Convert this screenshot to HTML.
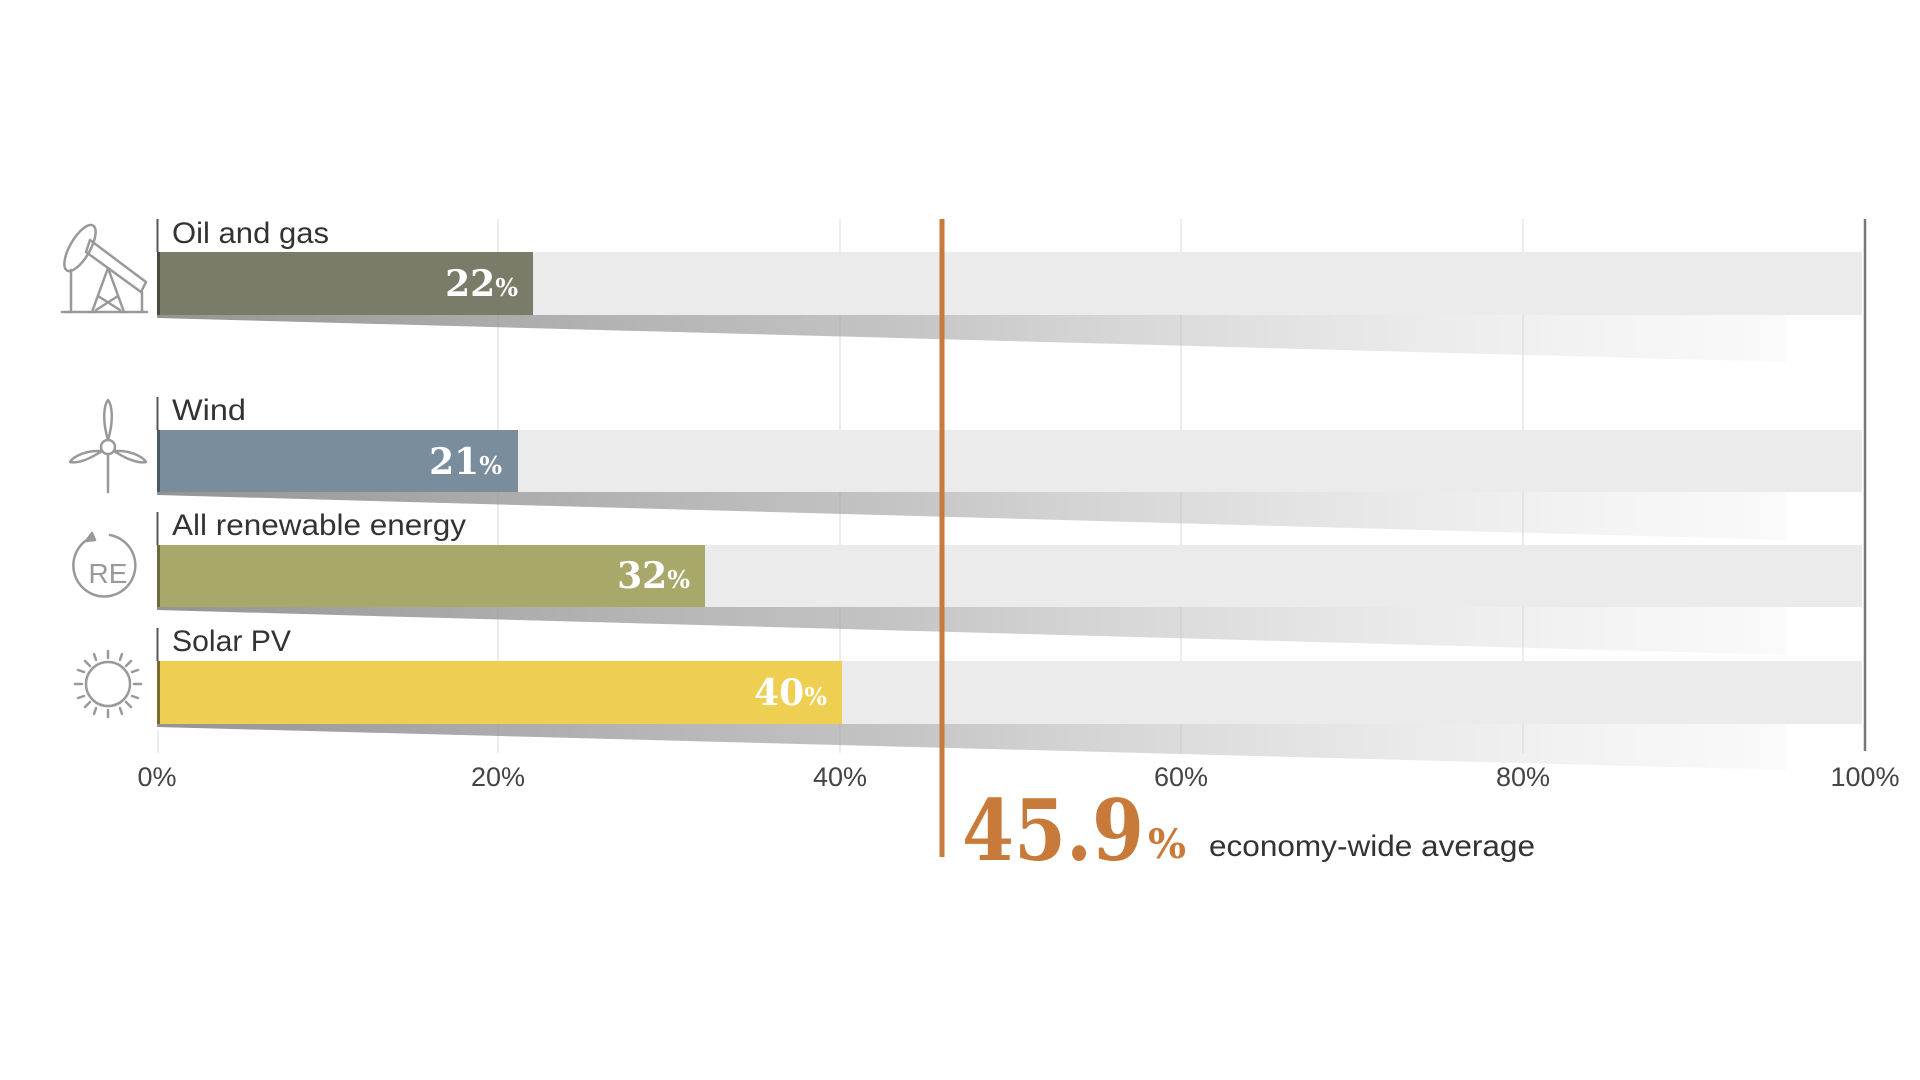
<!DOCTYPE html>
<html><head><meta charset="utf-8"><style>
html,body{margin:0;padding:0;background:#fff;width:1920px;height:1080px;overflow:hidden}
text{font-family:"Liberation Sans",sans-serif}
</style></head><body>
<svg width="1920" height="1080" viewBox="0 0 1920 1080" xmlns="http://www.w3.org/2000/svg">
<defs>
<linearGradient id="sh" x1="0" y1="0" x2="1" y2="0">
<stop offset="0" stop-color="#888" stop-opacity="0.9"/>
<stop offset="0.45" stop-color="#aaa" stop-opacity="0.7"/>
<stop offset="1" stop-color="#ddd" stop-opacity="0.15"/>
</linearGradient>
</defs>
<g stroke="#e6e6e6" stroke-width="1.5">
<line x1="498" y1="219" x2="498" y2="753"/>
<line x1="840" y1="219" x2="840" y2="753"/>
<line x1="1181" y1="219" x2="1181" y2="753"/>
<line x1="1523" y1="219" x2="1523" y2="753"/>
<line x1="158" y1="730" x2="158" y2="753"/>
</g>
<g>
<rect x="157" y="252" width="1705" height="63" fill="#ebebeb"/>
<polygon points="157,315 1786,315 1786,362 157,318" fill="url(#sh)"/>
<rect x="157" y="252" width="376" height="63" fill="#7a7b68"/>
<rect x="157" y="252" width="3" height="63" fill="#4a4b3c"/>
<line x1="157.5" y1="219" x2="157.5" y2="252" stroke="#555" stroke-width="2"/>
<text x="172" y="243" font-size="30" fill="#333" textLength="157" lengthAdjust="spacingAndGlyphs">Oil and gas</text>
<text x="518" y="296" text-anchor="end" font-weight="bold" font-size="36" fill="#fff" style="font-family:'DejaVu Serif',serif">22<tspan font-size="24">%</tspan></text>
<rect x="157" y="430" width="1705" height="62" fill="#ebebeb"/>
<polygon points="157,492 1786,492 1786,540 157,495" fill="url(#sh)"/>
<rect x="157" y="430" width="361" height="62" fill="#7a8d9c"/>
<rect x="157" y="430" width="3" height="62" fill="#4a5a66"/>
<line x1="157.5" y1="397" x2="157.5" y2="430" stroke="#555" stroke-width="2"/>
<text x="172" y="420" font-size="30" fill="#333" textLength="74" lengthAdjust="spacingAndGlyphs">Wind</text>
<text x="502" y="474" text-anchor="end" font-weight="bold" font-size="36" fill="#fff" style="font-family:'DejaVu Serif',serif">21<tspan font-size="24">%</tspan></text>
<rect x="157" y="545" width="1705" height="62" fill="#ebebeb"/>
<polygon points="157,607 1786,607 1786,655 157,610" fill="url(#sh)"/>
<rect x="157" y="545" width="548" height="62" fill="#a8a86a"/>
<rect x="157" y="545" width="3" height="62" fill="#6b6b3c"/>
<line x1="157.5" y1="512" x2="157.5" y2="545" stroke="#555" stroke-width="2"/>
<text x="172" y="535" font-size="30" fill="#333" textLength="294" lengthAdjust="spacingAndGlyphs">All renewable energy</text>
<text x="690" y="588" text-anchor="end" font-weight="bold" font-size="36" fill="#fff" style="font-family:'DejaVu Serif',serif">32<tspan font-size="24">%</tspan></text>
<rect x="157" y="661" width="1705" height="63" fill="#ebebeb"/>
<polygon points="157,724 1786,724 1786,770 157,727" fill="url(#sh)"/>
<rect x="157" y="661" width="685" height="63" fill="#eecf52"/>
<rect x="157" y="661" width="3" height="63" fill="#7a6a30"/>
<line x1="157.5" y1="628" x2="157.5" y2="661" stroke="#555" stroke-width="2"/>
<text x="172" y="651" font-size="30" fill="#333" textLength="119" lengthAdjust="spacingAndGlyphs">Solar PV</text>
<text x="827" y="705" text-anchor="end" font-weight="bold" font-size="36" fill="#fff" style="font-family:'DejaVu Serif',serif">40<tspan font-size="24">%</tspan></text>
</g>
<line x1="1865" y1="219" x2="1865" y2="751" stroke="#777" stroke-width="2.5"/>
<line x1="942" y1="219" x2="942" y2="857" stroke="#c87a3a" stroke-width="5"/>
<g font-size="27" fill="#444" text-anchor="middle">
<text x="157" y="786">0%</text>
<text x="498" y="786">20%</text>
<text x="840" y="786">40%</text>
<text x="1181" y="786">60%</text>
<text x="1523" y="786">80%</text>
<text x="1865" y="786">100%</text>
</g>
<text x="962" y="860" font-size="84" font-weight="bold" fill="#c87a3a" style="font-family:'DejaVu Serif',serif" textLength="182" lengthAdjust="spacingAndGlyphs">45.9</text>
<text x="1148" y="858" font-size="40" font-weight="bold" fill="#c87a3a" style="font-family:'DejaVu Serif',serif">%</text>
<text x="1209" y="856" font-size="30" fill="#333" textLength="326" lengthAdjust="spacingAndGlyphs">economy-wide average</text>
<g fill="none" stroke="#999" stroke-width="2.5" stroke-linecap="round" stroke-linejoin="round">
<line x1="62" y1="312" x2="147" y2="312"/>
<ellipse cx="80" cy="248" rx="10" ry="26" transform="rotate(30 80 248)"/>
<polygon points="90,240 146,282 141,292 86,252"/>
<line x1="71" y1="270" x2="71" y2="312"/>
<line x1="142" y1="292" x2="142" y2="312"/>
<line x1="108" y1="268" x2="92" y2="312"/>
<line x1="108" y1="268" x2="124" y2="312"/>
<line x1="98" y1="296" x2="120" y2="310"/>
<line x1="118" y1="296" x2="96" y2="310"/>
<circle cx="108" cy="447" r="7"/>
<path d="M108,440 C102,420 104,405 108,400 C112,405 114,420 108,440Z"/>
<path d="M102,451 C85,462 75,463 70,462 C73,457 85,450 102,451Z"/>
<path d="M114,451 C131,462 141,463 146,462 C143,457 131,450 114,451Z"/>
<line x1="108" y1="454" x2="108" y2="492"/>
<path d="M90,538 A31,31 0 1 0 110,535"/>
<polygon points="86,541 92,533 95,540" fill="#999"/>
<circle cx="108" cy="684" r="22"/>
<g>
<line x1="108" y1="651" x2="108" y2="658"/><line x1="108" y1="710" x2="108" y2="717"/>
<line x1="75" y1="684" x2="82" y2="684"/><line x1="134" y1="684" x2="141" y2="684"/>
<line x1="85" y1="661" x2="90" y2="666"/><line x1="126" y1="702" x2="131" y2="707"/>
<line x1="131" y1="661" x2="126" y2="666"/><line x1="90" y1="702" x2="85" y2="707"/>
<line x1="94" y1="654" x2="96" y2="660"/><line x1="122" y1="654" x2="120" y2="660"/>
<line x1="94" y1="714" x2="96" y2="708"/><line x1="122" y1="714" x2="120" y2="708"/>
<line x1="78" y1="670" x2="84" y2="672"/><line x1="138" y1="670" x2="132" y2="672"/>
<line x1="78" y1="698" x2="84" y2="696"/><line x1="138" y1="698" x2="132" y2="696"/>
</g>
</g>
<text x="108" y="583" font-size="28" fill="#999" text-anchor="middle">RE</text>
</svg>
</body></html>
